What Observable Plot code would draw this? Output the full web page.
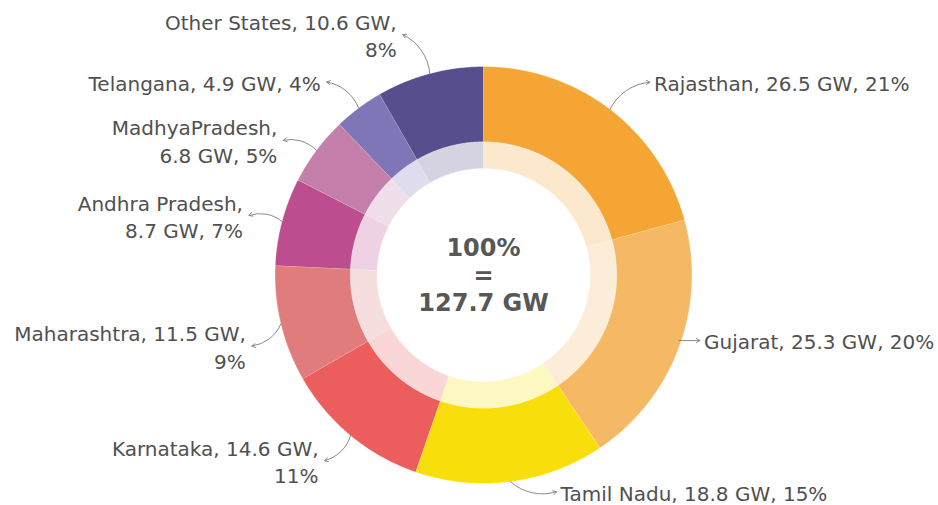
<!DOCTYPE html>
<html><head><meta charset="utf-8">
<script src="https://cdn.jsdelivr.net/npm/d3@7"></script>
<script src="https://cdn.jsdelivr.net/npm/@observablehq/plot@0.6"></script>
<style>html,body{margin:0;padding:0;background:#fff;overflow:hidden}</style>
</head><body><div id="chart"></div>
<script>
// ---- data ----
const states = ["Rajasthan","Gujarat","Tamil Nadu","Karnataka","Maharashtra","Andhra Pradesh","MadhyaPradesh","Telangana","Other States"];
const capacityGW = [26.5, 25.3, 18.8, 14.6, 11.5, 8.7, 6.8, 4.9, 10.6];
const sharePct = [21, 20, 15, 11, 9, 7, 5, 4, 8];
const colors = ["#F4A533","#F5B865","#F8DE0A","#EC5D5E","#E07C7C","#BC4D8E","#C57FAB","#7E76B6","#574F8D"];
// where each label wraps: "none", "name" (after state name), "gw" (after GW value)
const labelWrap = ["none","none","none","gw","gw","name","name","none","gw"];

// ---- layout ----
const W = 938, H = 505;
const cx = 483, cy = 274.5;
const R = 208.5, rMid = 133, rIn = 106.5;
// leader-arrow offsets from slice edge to label
const arrowDx = [40, 21, 46, -26, -29, -33, -33, -32, -27];
const arrowDy = [-27, -7, 10, 25, 22, -6, -10, -26, -39];
const arrowBend = [30, 0, -30, 30, 30, -30, -30, -30, -30];

const total = d3.sum(capacityGW);
const pie = d3.pie().sort(null).value(d => d)(capacityGW);

function ringPoly(a0, a1, r0, r1, key, i) {
  const n = Math.max(3, Math.ceil((a1 - a0) / 0.005));
  const pts = [];
  for (let k = 0; k <= n; k++) { const a = a0 + (a1 - a0) * k / n; pts.push({x: r1 * Math.sin(a), y: -r1 * Math.cos(a), key, i}); }
  for (let k = n; k >= 0; k--) { const a = a0 + (a1 - a0) * k / n; pts.push({x: r0 * Math.sin(a), y: -r0 * Math.cos(a), key, i}); }
  return pts;
}

const outer = pie.flatMap((p, i) => ringPoly(p.startAngle, p.endAngle, rMid, R, "o" + i, i));
const inner = pie.flatMap((p, i) => ringPoly(p.startAngle, p.endAngle, rIn, rMid, "i" + i, i));

const labels = pie.map((p, i) => {
  const a = (p.startAngle + p.endAngle) / 2;
  const x1 = R * Math.sin(a), y1 = -R * Math.cos(a);
  const x2 = x1 + arrowDx[i], y2 = y1 + arrowDy[i];
  const name = states[i], gw = capacityGW[i].toFixed(1) + " GW", pc = sharePct[i] + "%";
  let text;
  if (labelWrap[i] === "name") text = `${name},\n${gw}, ${pc}`;
  else if (labelWrap[i] === "gw") text = `${name}, ${gw},\n${pc}`;
  else text = `${name}, ${gw}, ${pc}`;
  const right = x2 > x1;
  return {x1, y1, x2, y2, text, right, bend: arrowBend[i], tx: x2 + (right ? 4 : -6)};
});

const labelColor = "#505050";
const arrowColor = "#8a8a8a";
const font = "'DejaVu Sans', sans-serif";

const chart = Plot.plot({
  width: W, height: H,
  margin: 0,
  x: {domain: [-cx, W - cx], range: [0, W], axis: null},
  y: {domain: [-cy, H - cy], range: [0, H], axis: null},
  style: {fontFamily: font, background: "#fff"},
  marks: [
    Plot.line(outer, {x: "x", y: "y", z: "key", fill: d => colors[d.i], stroke: "#ffffff", strokeWidth: 0.6, strokeOpacity: 0.6, curve: "linear"}),
    Plot.line(inner, {x: "x", y: "y", z: "key", fill: d => colors[d.i], fillOpacity: 0.25, stroke: "#ffffff", strokeWidth: 0.6, strokeOpacity: 0.6, curve: "linear"}),
    Plot.arrow(labels.filter(d => d.bend > 0), {x1: "x1", y1: "y1", x2: "x2", y2: "y2", bend: 30, headLength: 6, stroke: arrowColor, strokeWidth: 1}),
    Plot.arrow(labels.filter(d => d.bend < 0), {x1: "x1", y1: "y1", x2: "x2", y2: "y2", bend: -30, headLength: 6, stroke: arrowColor, strokeWidth: 1}),
    Plot.arrow(labels.filter(d => d.bend === 0), {x1: "x1", y1: "y2", x2: "x2", y2: "y2", bend: 0, headLength: 6, stroke: arrowColor, strokeWidth: 1}),
    Plot.text(labels.filter(d => d.right), {x: "tx", y: "y2", text: "text", textAnchor: "start", lineAnchor: "middle", fontSize: 20, lineHeight: 1.38, fill: labelColor}),
    Plot.text(labels.filter(d => !d.right), {x: "tx", y: "y2", text: "text", textAnchor: "end", lineAnchor: "middle", fontSize: 20, lineHeight: 1.38, fill: labelColor}),
    Plot.text([`100%\n=\n${total.toFixed(1)} GW`], {x: () => 0, y: () => 0, text: d => d, fontSize: 24, fontWeight: "bold", lineHeight: 1.15, lineAnchor: "middle", fill: "#575757"})
  ]
});
document.getElementById("chart").appendChild(chart);
</script>
</body></html>
